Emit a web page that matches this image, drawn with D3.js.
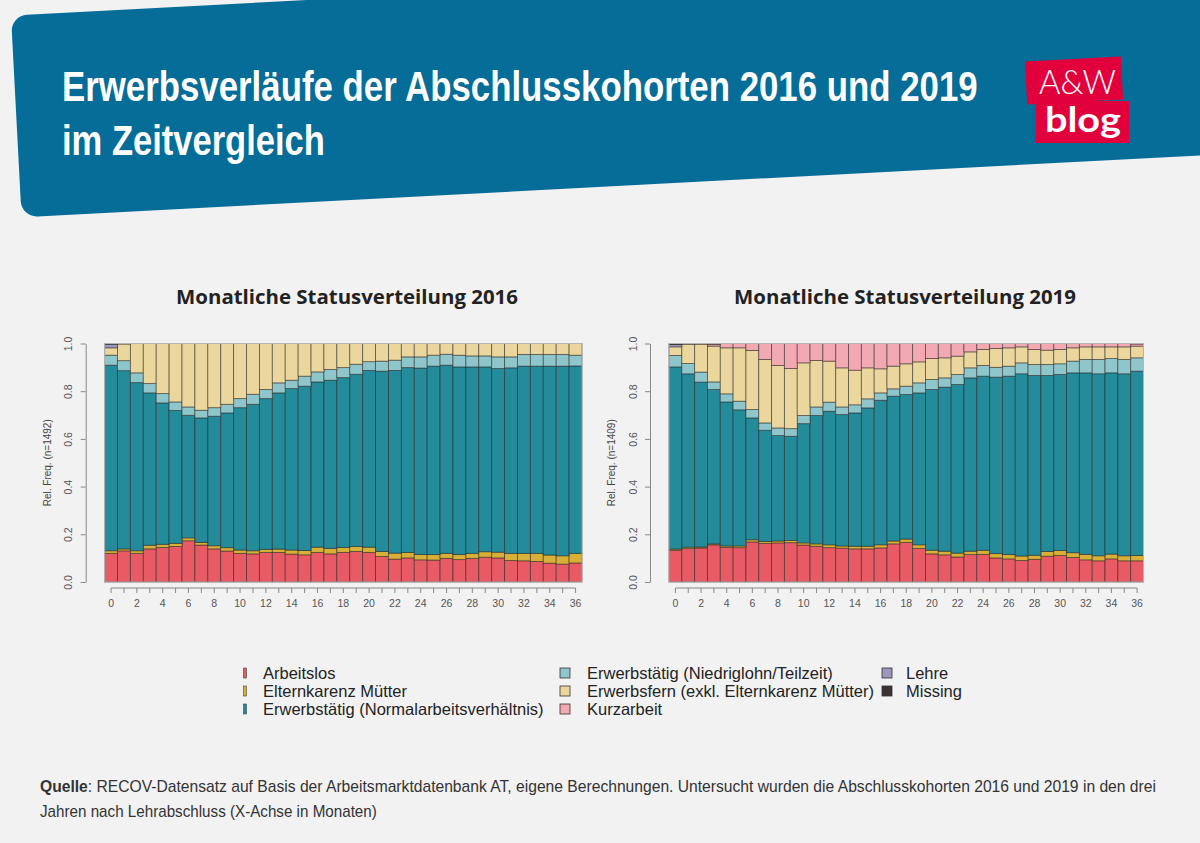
<!DOCTYPE html>
<html>
<head>
<meta charset="utf-8">
<script src="https://cdn.jsdelivr.net/npm/d3@7"></script>
<style>
    body { margin: 0; background: #f2f2f2; }
    svg { display: block; }
</style>
</head>
<body>
<svg id="chart" width="1200" height="843"></svg>
<script>
// Months after the apprenticeship exam (x categories)
var months = d3.range(0, 37);
var xTickLabels = [0, 2, 4, 6, 8, 10, 12, 14, 16, 18, 20, 22, 24, 26, 28, 30, 32, 34, 36];
var yTickValues = [0, 0.2, 0.4, 0.6, 0.8, 1.0];

var statusLabels = [
    "Arbeitslos",
    "Elternkarenz Mütter",
    "Erwerbstätig (Normalarbeitsverhältnis)",
    "Erwerbstätig (Niedriglohn/Teilzeit)",
    "Erwerbsfern (exkl. Elternkarenz Mütter)",
    "Kurzarbeit",
    "Lehre",
    "Missing"
];
var statusColors = ["#e85b65", "#d8b037", "#248b9a", "#8fc6cb", "#ebd79d", "#f3a9b1", "#9d96bd", "#3b3330"];

// Cohort 2016 (n=1492), share per month
var arbeitslos2016 = [0.120, 0.131, 0.120, 0.139, 0.145, 0.149, 0.173, 0.155, 0.139, 0.130, 0.120, 0.118, 0.124, 0.124, 0.117, 0.114, 0.124, 0.118, 0.124, 0.128, 0.124, 0.107, 0.096, 0.101, 0.093, 0.092, 0.099, 0.094, 0.099, 0.104, 0.101, 0.090, 0.089, 0.086, 0.079, 0.075, 0.080];
var elternkarenz2016 = [0.011, 0.008, 0.011, 0.015, 0.013, 0.013, 0.012, 0.011, 0.013, 0.014, 0.014, 0.013, 0.013, 0.014, 0.017, 0.018, 0.022, 0.023, 0.021, 0.021, 0.022, 0.021, 0.025, 0.023, 0.022, 0.023, 0.021, 0.021, 0.021, 0.023, 0.024, 0.030, 0.031, 0.034, 0.034, 0.035, 0.040];
var normal2016 = [0.778, 0.749, 0.705, 0.639, 0.593, 0.557, 0.514, 0.522, 0.543, 0.565, 0.597, 0.614, 0.632, 0.655, 0.677, 0.689, 0.693, 0.705, 0.712, 0.722, 0.741, 0.756, 0.766, 0.775, 0.782, 0.790, 0.789, 0.787, 0.782, 0.775, 0.770, 0.778, 0.785, 0.785, 0.792, 0.795, 0.786];
var niedriglohn2016 = [0.042, 0.042, 0.041, 0.039, 0.039, 0.036, 0.035, 0.032, 0.036, 0.036, 0.038, 0.042, 0.038, 0.042, 0.035, 0.042, 0.042, 0.045, 0.042, 0.042, 0.037, 0.042, 0.043, 0.045, 0.047, 0.046, 0.046, 0.049, 0.046, 0.046, 0.049, 0.046, 0.049, 0.049, 0.049, 0.049, 0.045];
var erwerbsfern2016 = [0.031, 0.070, 0.123, 0.168, 0.210, 0.245, 0.266, 0.280, 0.269, 0.255, 0.231, 0.213, 0.193, 0.165, 0.154, 0.137, 0.119, 0.109, 0.101, 0.087, 0.076, 0.074, 0.070, 0.056, 0.056, 0.049, 0.045, 0.049, 0.052, 0.052, 0.056, 0.056, 0.046, 0.046, 0.046, 0.046, 0.049];
var kurzarbeit2016 = [0, 0, 0, 0, 0, 0, 0, 0, 0, 0, 0, 0, 0, 0, 0, 0, 0, 0, 0, 0, 0, 0, 0, 0, 0, 0, 0, 0, 0, 0, 0, 0, 0, 0, 0, 0, 0];
var lehre2016 = [0.015, 0.002, 0, 0, 0, 0, 0, 0, 0, 0, 0, 0, 0, 0, 0, 0, 0, 0, 0, 0, 0, 0, 0, 0, 0, 0, 0, 0, 0, 0, 0, 0, 0, 0, 0, 0, 0];
var missing2016 = [0.003, 0, 0, 0, 0, 0, 0, 0, 0, 0, 0, 0, 0, 0, 0, 0, 0, 0, 0, 0, 0, 0, 0, 0, 0, 0, 0, 0, 0, 0, 0, 0, 0, 0, 0, 0, 0];

// Cohort 2019 (n=1409), share per month
var arbeitslos2019 = [0.133, 0.140, 0.143, 0.156, 0.145, 0.144, 0.168, 0.162, 0.164, 0.165, 0.155, 0.150, 0.144, 0.142, 0.139, 0.139, 0.143, 0.160, 0.166, 0.141, 0.118, 0.114, 0.105, 0.115, 0.116, 0.101, 0.097, 0.090, 0.095, 0.108, 0.111, 0.103, 0.093, 0.089, 0.097, 0.089, 0.089];
var elternkarenz2019 = [0.005, 0.006, 0.004, 0.004, 0.006, 0.007, 0.009, 0.008, 0.008, 0.009, 0.009, 0.010, 0.012, 0.009, 0.011, 0.011, 0.013, 0.012, 0.014, 0.015, 0.015, 0.015, 0.016, 0.014, 0.017, 0.018, 0.018, 0.019, 0.017, 0.020, 0.021, 0.020, 0.023, 0.021, 0.020, 0.021, 0.022];
var normal2019 = [0.764, 0.727, 0.691, 0.647, 0.604, 0.571, 0.511, 0.466, 0.442, 0.437, 0.500, 0.538, 0.560, 0.551, 0.559, 0.580, 0.606, 0.607, 0.606, 0.637, 0.674, 0.688, 0.707, 0.727, 0.730, 0.740, 0.748, 0.764, 0.754, 0.738, 0.738, 0.754, 0.761, 0.763, 0.760, 0.763, 0.773];
var niedriglohn2019 = [0.048, 0.043, 0.042, 0.032, 0.034, 0.036, 0.035, 0.031, 0.032, 0.032, 0.034, 0.036, 0.038, 0.032, 0.034, 0.038, 0.031, 0.031, 0.035, 0.042, 0.042, 0.039, 0.042, 0.042, 0.045, 0.041, 0.042, 0.046, 0.046, 0.046, 0.045, 0.049, 0.056, 0.060, 0.060, 0.060, 0.056];
var erwerbsfern2019 = [0.036, 0.081, 0.117, 0.150, 0.193, 0.224, 0.248, 0.266, 0.262, 0.252, 0.221, 0.195, 0.172, 0.164, 0.145, 0.130, 0.101, 0.095, 0.094, 0.088, 0.088, 0.084, 0.077, 0.067, 0.067, 0.079, 0.077, 0.067, 0.063, 0.060, 0.060, 0.056, 0.053, 0.053, 0.049, 0.053, 0.049];
var kurzarbeit2019 = [0, 0, 0.003, 0.008, 0.018, 0.018, 0.029, 0.067, 0.092, 0.105, 0.081, 0.071, 0.074, 0.102, 0.112, 0.102, 0.106, 0.095, 0.085, 0.077, 0.063, 0.060, 0.053, 0.035, 0.025, 0.021, 0.018, 0.014, 0.025, 0.028, 0.025, 0.018, 0.014, 0.014, 0.014, 0.014, 0.009];
var lehre2019 = [0.010, 0.003, 0, 0, 0, 0, 0, 0, 0, 0, 0, 0, 0, 0, 0, 0, 0, 0, 0, 0, 0, 0, 0, 0, 0, 0, 0, 0, 0, 0, 0, 0, 0, 0, 0, 0, 0];
var missing2019 = [0.004, 0, 0, 0.003, 0, 0, 0, 0, 0, 0, 0, 0, 0, 0, 0, 0, 0, 0, 0, 0, 0, 0, 0, 0, 0, 0, 0, 0, 0, 0, 0, 0, 0, 0, 0, 0, 0.002];

var svg = d3.select("#chart");
var narrow = "'Liberation Sans Narrow', 'Arial Narrow', 'Liberation Sans', sans-serif";

/**
 * Squeezes a text element (placed at 0,0 inside its group) to a given width.
 */
function fitText(group, x, y, width) {
    var w = group.select("text").node().getComputedTextLength();
    group.attr("transform", "translate(" + x + "," + y + ") scale(" + (width / w) + ",1)");
}

// Header banner, slightly tilted
svg.append("rect")
    .attr("x", 11).attr("y", 15.5)
    .attr("width", 1330).attr("height", 202)
    .attr("rx", 16)
    .attr("fill", "#066c98")
    .attr("transform", "rotate(-3,11,15.5)");

var titleLines = [
    {text: "Erwerbsverläufe der Abschlusskohorten 2016 und 2019", y: 101, width: 916},
    {text: "im Zeitvergleich", y: 155, width: 263}
];
titleLines.forEach(function (line) {
    var g = svg.append("g");
    g.append("text")
        .attr("font-family", narrow)
        .attr("font-weight", "bold")
        .attr("font-size", 42)
        .attr("fill", "#ffffff")
        .text(line.text);
    fitText(g, 62, line.y, line.width);
});

// A&W blog logo
svg.append("rect")
    .attr("x", 1026).attr("y", 59).attr("width", 96).attr("height", 43)
    .attr("fill", "#e2003c")
    .attr("transform", "rotate(-3,1074,80)");
svg.append("rect")
    .attr("x", 1036).attr("y", 101).attr("width", 93).attr("height", 42)
    .attr("fill", "#e2003c");
var logoA = svg.append("g");
logoA.append("text")
    .attr("font-family", "Lato, 'Open Sans', sans-serif")
    .attr("font-weight", 300)
    .attr("font-size", 34)
    .attr("fill", "#ffffff")
    .text("A&W");
fitText(logoA, 1039, 94, 77);
var logoB = svg.append("g");
logoB.append("text")
    .attr("font-family", "Lato, 'Open Sans', sans-serif")
    .attr("font-weight", "bold")
    .attr("font-size", 34)
    .attr("fill", "#ffffff")
    .text("blog");
fitText(logoB, 1045, 132, 76);

// The two panels
var panels = [
    {
        title: "Monatliche Statusverteilung 2016", n: 1492,
        series: [arbeitslos2016, elternkarenz2016, normal2016, niedriglohn2016, erwerbsfern2016, kurzarbeit2016, lehre2016, missing2016],
        left: 104.6, right: 582, axisX: 85.7, titleX: 347
    },
    {
        title: "Monatliche Statusverteilung 2019", n: 1409,
        series: [arbeitslos2019, elternkarenz2019, normal2019, niedriglohn2019, erwerbsfern2019, kurzarbeit2019, lehre2019, missing2019],
        left: 669, right: 1143.5, axisX: 650, titleX: 905
    }
];

var plotTop = 343.5, plotBottom = 582;
var yScale = d3.scaleLinear().domain([0, 1]).range([plotBottom, plotTop]);

panels.forEach(function (panel) {
    var xScale = d3.scaleBand().domain(months).range([panel.left, panel.right]).paddingInner(0).paddingOuter(0);
    var rows = months.map(function (m, i) {
        return {month: m, values: panel.series.map(function (s) { return s[i]; })};
    });
    var stack = d3.stack()
        .keys(d3.range(statusLabels.length))
        .value(function (d, k) { return d.values[k]; })
        .offset(d3.stackOffsetExpand);
    var layers = stack(rows);

    // Title
    var tg = svg.append("g");
    tg.append("text")
        .attr("text-anchor", "middle")
        .attr("font-family", "'Open Sans', sans-serif")
        .attr("font-weight", "bold")
        .attr("font-size", 19)
        .attr("fill", "#222")
        .text(panel.title);
    fitText(tg, panel.titleX, 304, 342);

    // Bars
    var gBars = svg.append("g").attr("class", "bars");
    gBars.selectAll("g.layer")
        .data(layers)
        .enter().append("g")
        .attr("class", "layer")
        .attr("fill", function (d, i) { return statusColors[i]; })
        .selectAll("rect")
        .data(function (d) { return d.filter(function (p) { return p[1] - p[0] > 0; }); })
        .enter().append("rect")
        .attr("x", function (d) { return xScale(d.data.month); })
        .attr("width", xScale.bandwidth())
        .attr("y", function (d) { return yScale(d[1]); })
        .attr("height", function (d) { return yScale(d[0]) - yScale(d[1]); })
        .attr("stroke", "rgba(30,30,30,0.55)")
        .attr("stroke-width", 0.9);

    // light frame round the bars
    svg.append("rect")
        .attr("x", panel.left).attr("y", plotTop)
        .attr("width", panel.right - panel.left).attr("height", plotBottom - plotTop)
        .attr("fill", "none").attr("stroke", "#b5b5b5").attr("stroke-width", 1);

    // Y axis (R style, rotated labels)
    var yAxis = d3.axisLeft(yScale).tickValues(yTickValues).tickFormat(d3.format(".1f")).tickSize(5).tickSizeOuter(0);
    var gy = svg.append("g")
        .attr("transform", "translate(" + panel.axisX + ",0)")
        .call(yAxis);
    gy.select(".domain").attr("stroke", "#888");
    gy.selectAll(".tick line").attr("stroke", "#888");
    gy.selectAll(".tick text")
        .attr("transform", "rotate(-90)")
        .attr("x", 0).attr("y", -13.5).attr("dy", 0)
        .attr("text-anchor", "middle")
        .attr("font-family", "'Liberation Sans', Arial, sans-serif")
        .attr("font-size", 10.5)
        .attr("fill", "#555");

    svg.append("text")
        .attr("transform", "translate(" + (panel.axisX - 35) + "," + ((plotTop + plotBottom) / 2) + ") rotate(-90)")
        .attr("text-anchor", "middle")
        .attr("font-family", "'Liberation Sans', Arial, sans-serif")
        .attr("font-size", 10)
        .attr("fill", "#444")
        .text("Rel. Freq. (n=" + panel.n + ")");

    // X axis: tick per month, label every second month
    var xAxis = d3.axisBottom(xScale)
        .tickValues(months)
        .tickFormat(function (d) { return xTickLabels.indexOf(d) >= 0 ? d : ""; })
        .tickSize(5)
        .tickPadding(7);
    var gx = svg.append("g")
        .attr("transform", "translate(0," + (plotBottom + 6) + ")")
        .call(xAxis);
    gx.select(".domain").remove();
    gx.append("line")
        .attr("x1", xScale(0) + xScale.bandwidth() / 2)
        .attr("x2", xScale(36) + xScale.bandwidth() / 2)
        .attr("stroke", "#888");
    gx.selectAll(".tick line").attr("stroke", "#888");
    gx.selectAll(".tick text")
        .attr("font-family", "'Liberation Sans', Arial, sans-serif")
        .attr("font-size", 10.5)
        .attr("fill", "#555");
});

// Legend (three columns, column-major like the R plot)
var legendCols = [{sym: 245, text: 263}, {sym: 565, text: 587}, {sym: 887, text: 906}];
var legendRows = [673, 691, 709];
statusLabels.forEach(function (label, i) {
    var col = Math.floor(i / 3), row = i % 3;
    var c = legendCols[col], y = legendRows[row];
    if (col === 0) {
        svg.append("rect")
            .attr("x", c.sym - 1.5).attr("y", y - 5).attr("width", 3).attr("height", 10)
            .attr("fill", statusColors[i]).attr("stroke", "#444").attr("stroke-width", 0.6);
    } else {
        svg.append("rect")
            .attr("x", c.sym - 5).attr("y", y - 5).attr("width", 10).attr("height", 10)
            .attr("fill", statusColors[i]).attr("stroke", "#333").attr("stroke-width", 0.8);
    }
    svg.append("text")
        .attr("x", c.text).attr("y", y + 5.5)
        .attr("font-family", narrow)
        .attr("font-size", 16.5)
        .attr("fill", "#222")
        .text(label);
});

// Source note
var note1 = svg.append("g");
var t1 = note1.append("text")
    .attr("font-family", narrow)
    .attr("font-size", 16)
    .attr("fill", "#333");
t1.append("tspan").attr("font-weight", "bold").text("Quelle");
t1.append("tspan").text(": RECOV-Datensatz auf Basis der Arbeitsmarktdatenbank AT, eigene Berechnungen. Untersucht wurden die Abschlusskohorten 2016 und 2019 in den drei");
fitText(note1, 40, 792, 1117);
var note2 = svg.append("g");
note2.append("text")
    .attr("font-family", narrow)
    .attr("font-size", 16)
    .attr("fill", "#333")
    .text("Jahren nach Lehrabschluss (X-Achse in Monaten)");
fitText(note2, 40, 817, 337);
</script>
</body>
</html>
